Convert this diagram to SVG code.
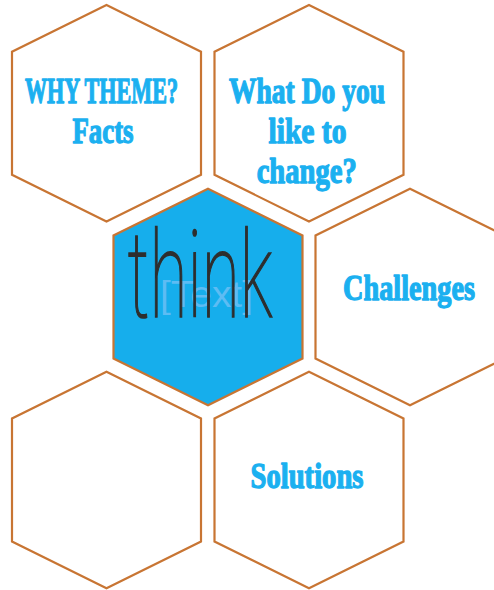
<svg xmlns="http://www.w3.org/2000/svg" width="494" height="590" viewBox="0 0 494 590">
  <style>
    .hex { fill: #ffffff; stroke: #C87533; stroke-width: 2.2; stroke-linejoin: miter; }
    .hex.center { fill: #16AEEC; }
    .lbl { font-family: "Liberation Serif", "DejaVu Serif", serif; font-weight: bold; font-size: 35px; fill: #1BB0F0; stroke: #1BB0F0; stroke-width: 1.3; stroke-linejoin: round; text-anchor: middle; }
    .ph { font-family: "Liberation Sans", Arial, sans-serif; font-size: 37px; fill: #5DBCF3; text-anchor: middle; }
    .ink { font-family: "Roboto", "DejaVu Sans", sans-serif; font-weight: 100; font-size: 120px; fill: #2E2E2E; stroke: #2E2E2E; stroke-width: 1.6; text-anchor: middle; }
  </style>
  <rect width="494" height="590" fill="#ffffff"/>
  <g id="connectors"></g>
  <g id="hex-why">
    <polygon class="hex" points="106.5,5 201,51.8 201,174.8 106.5,221.6 12,174.8 12,51.8"/>
    <text class="lbl" x="101.5" y="103" textLength="153" lengthAdjust="spacingAndGlyphs">WHY THEME?</text>
    <text class="lbl" x="103" y="143.3" textLength="61" lengthAdjust="spacingAndGlyphs">Facts</text>
  </g>
  <g id="hex-change">
    <polygon class="hex" points="309,5 403.5,51.8 403.5,174.8 309,221.6 214.5,174.8 214.5,51.8"/>
    <text class="lbl" x="307" y="102.7" textLength="156" lengthAdjust="spacingAndGlyphs">What Do you</text>
    <text class="lbl" x="307.5" y="142.7" textLength="78" lengthAdjust="spacingAndGlyphs">like to</text>
    <text class="lbl" x="306.7" y="182.7" textLength="100" lengthAdjust="spacingAndGlyphs">change?</text>
  </g>
  <g id="hex-think">
    <polygon class="hex center" points="208,188.7 302.5,235.5 302.5,358.5 208,405.3 113.5,358.5 113.5,235.5"/>
    <text class="ph" x="206.5" y="307" textLength="93" lengthAdjust="spacingAndGlyphs">[Text]</text>
    <text class="ink" x="200" y="317" textLength="145" lengthAdjust="spacingAndGlyphs">think</text>
  </g>
  <g id="hex-challenges">
    <polygon class="hex" points="410,188.7 504.5,235.5 504.5,358.5 410,405.3 315.5,358.5 315.5,235.5"/>
    <text class="lbl" x="409" y="300" textLength="132" lengthAdjust="spacingAndGlyphs">Challenges</text>
  </g>
  <g id="hex-empty">
    <polygon class="hex" points="106.5,371.7 201,418.5 201,541.5 106.5,588.3 12,541.5 12,418.5"/>
  </g>
  <g id="hex-solutions">
    <polygon class="hex" points="309,371.7 403.5,418.5 403.5,541.5 309,588.3 214.5,541.5 214.5,418.5"/>
    <text class="lbl" x="307" y="488.3" textLength="113" lengthAdjust="spacingAndGlyphs">Solutions</text>
  </g>
</svg>
